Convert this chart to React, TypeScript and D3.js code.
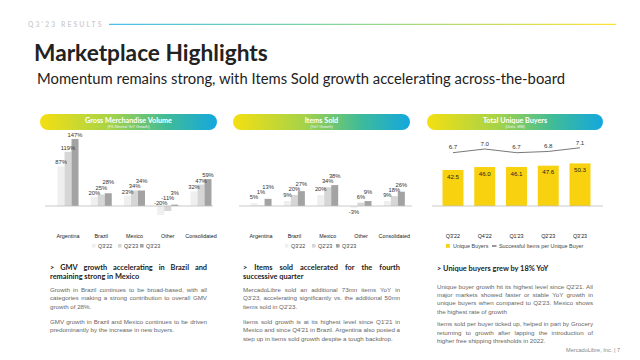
import React from 'react';
import * as d3 from 'd3';

// ---------- DATA ----------
const CATEGORIES = ['Argentina', 'Brazil', 'Mexico', 'Other', 'Consolidated'];
const SERIES = ["Q3'22", "Q2'23", "Q3'23"];
const GMV_Q322 = [87, 20, 23, -20, 32];
const GMV_Q223 = [119, 25, 34, -11, 47];
const GMV_Q323 = [147, 28, 34, 3, 59];
const ITEMS_Q322 = [5, 9, 20, -3, 9];
const ITEMS_Q223 = [1, 20, 34, 6, 18];
const ITEMS_Q323 = [13, 27, 38, 9, 26];
const QUARTERS = ["Q3'22", "Q4'22", "Q1'23", "Q2'23", "Q3'23"];
const UNIQUE_BUYERS = [42.5, 46.0, 46.1, 47.6, 50.3];
const ITEMS_PER_BUYER = [6.7, 7.0, 6.7, 6.8, 7.1];

const TEXT1_HEAD = ['> GMV growth accelerating in Brazil and', 'remaining strong in Mexico'];
const TEXT1_P = [
  ['Growth in Brazil continues to be broad-based, with all', 'categories making a strong contribution to overall GMV', 'growth of 28%.'],
  ['GMV growth in Brazil and Mexico continues to be driven', 'predominantly by the increase in new buyers.'],
];
const TEXT2_HEAD = ['> Items sold accelerated for the fourth', 'successive quarter'];
const TEXT2_P = [
  ['MercadoLibre sold an additional 73mn items YoY in', "Q3'23, accelerating significantly vs. the additional 50mn", "items sold in Q2'23."],
  ["Items sold growth is at its highest level since Q1'21 in", "Mexico and since Q4'21 in Brazil. Argentina also posted a", 'step up in items sold growth despite a tough backdrop.'],
];
const TEXT3_HEAD = ['> Unique buyers grew by 18% YoY'];
const TEXT3_P = [
  ["Unique buyer growth hit its highest level since Q2'21. All", 'major markets showed faster or stable YoY growth in', "unique buyers when compared to Q2'23. Mexico shows", 'the highest rate of growth'],
  ['Items sold per buyer ticked up, helped in part by Grocery', 'returning to growth after lapping the introduction of', 'higher free shipping thresholds in 2022.'],
];

// ---------- STYLE ----------
const HEAD_FONT = "Lato, 'Open Sans', sans-serif";
const BODY_FONT = "'Liberation Sans', Arial, sans-serif";
const SERIES_COLORS = ['#efefef', '#d6d6d6', '#a3a3a3'];
const YELLOW = '#f8d20f';

let _ctx: CanvasRenderingContext2D | null = null;
function measure(t: string, font: string): number {
  if (!_ctx) _ctx = document.createElement('canvas').getContext('2d');
  if (!_ctx) return t.length * 3;
  _ctx.font = font;
  return _ctx.measureText(t).width;
}

function Justified({ x, y, width, lines, lh, size, weight, family, fill, justifyLast = false }: any) {
  const font = `${weight} ${size}px ${family}`;
  return (
    <g>
      {lines.map((line: string, i: number) => {
        const yy = y + i * lh;
        const last = i === lines.length - 1 && !justifyLast;
        if (last) {
          return (
            <text key={i} x={x} y={yy} fontSize={size} fontWeight={weight} fontFamily={family} fill={fill}>
              {line}
            </text>
          );
        }
        const words = line.split(' ');
        const ws = words.map((w) => measure(w, font));
        const total = ws.reduce((a, b) => a + b, 0);
        const gap = (width - total) / Math.max(1, words.length - 1);
        let cx = x;
        return (
          <text key={i} y={yy} fontSize={size} fontWeight={weight} fontFamily={family} fill={fill}>
            {words.map((w, j) => {
              const px = cx;
              cx += ws[j] + gap;
              return (
                <tspan key={j} x={px}>
                  {w}
                </tspan>
              );
            })}
          </text>
        );
      })}
    </g>
  );
}

function TextColumn({ x, width, head, paras, headY, bodyY, paraGap }: any) {
  let y = bodyY;
  const blocks: any[] = [];
  paras.forEach((p: string[], i: number) => {
    blocks.push(
      <Justified key={i} x={x} y={y} width={width} lines={p} lh={8.4} size={6.2} weight={400} family={BODY_FONT} fill="#666" />
    );
    y += p.length * 8.4 + paraGap;
  });
  return (
    <g>
      <Justified x={x} y={headY} width={width} lines={head} lh={9} size={7.4} weight={700} family={HEAD_FONT} fill="#222" />
      {blocks}
    </g>
  );
}

function Pill({ x0, x1, y, title, sub, id }: any) {
  const h = 16;
  const cx = (x0 + x1) / 2;
  return (
    <g>
      <rect x={x0} y={y} width={x1 - x0} height={h} rx={h / 2} fill={`url(#${id})`} />
      <text x={cx} y={y + 8.7} textAnchor="middle" fontSize={7.2} fontWeight={700} fontFamily={HEAD_FONT} fill="#fff">
        {title}
      </text>
      <text x={cx} y={y + 13.6} textAnchor="middle" fontSize={3.8} fontFamily={BODY_FONT} fill="#f4f4f4">
        {sub}
      </text>
    </g>
  );
}

function GroupedBars({ values, xRange, y0, pxPer, lineX, labelGap, negBelow }: any) {
  const x0 = d3.scaleBand().domain(CATEGORIES).range(xRange).padding(0);
  const x1 = d3.scaleBand().domain(SERIES).range([-10.5, 10.5]);
  const y = d3.scaleLinear().domain([0, 100]).range([y0, y0 - 100 * pxPer]);
  const marks: any[] = [];
  const labels: any[] = [];
  const STEP = 5.2;
  CATEGORIES.forEach((c, ci) => {
    const center = (x0(c) as number) + x0.bandwidth() / 2;
    let prev: number | null = null;
    SERIES.forEach((s, si) => {
      const v = values[si][ci];
      const bx = center + (x1(s) as number);
      const top = Math.min(y(v), y(0));
      const hgt = Math.abs(y(v) - y(0));
      marks.push(<rect key={`${c}-${s}`} x={bx} y={top} width={x1.bandwidth()} height={hgt} fill={SERIES_COLORS[si]} />);
      let ly: number;
      if (v < 0 && negBelow) {
        ly = y(v) + 6.5;
      } else {
        ly = v < 0 ? y0 - 1 : y(v) - labelGap;
        if (prev !== null && ly > prev - STEP) ly = prev - STEP;
        prev = ly;
      }
      labels.push(
        <text key={`l-${c}-${s}`} x={bx + x1.bandwidth() / 2} y={ly} textAnchor="middle" fontSize={5.8} fontFamily={BODY_FONT} fill="#333">
          {`${v}%`}
        </text>
      );
    });
  });
  return (
    <g>
      {marks}
      <line x1={lineX[0]} x2={lineX[1]} y1={y0} y2={y0} stroke="#bdbdbd" strokeWidth={0.8} />
      {labels}
      {CATEGORIES.map((c) => (
        <text key={c} x={(x0(c) as number) + x0.bandwidth() / 2} y={238} textAnchor="middle" fontSize={5.4} fontFamily={BODY_FONT} fill="#222">
          {c}
        </text>
      ))}
    </g>
  );
}

function SeriesLegend({ xs }: any) {
  return (
    <g>
      {SERIES.map((s, i) => (
        <g key={s}>
          <rect x={xs[i]} y={244} width={3.6} height={3.6} fill={SERIES_COLORS[i]} />
          <text x={xs[i] + 6} y={247.8} fontSize={5.4} fontFamily={BODY_FONT} fill="#444">
            {s}
          </text>
        </g>
      ))}
    </g>
  );
}

function BuyersChart() {
  const x = d3.scaleBand().domain(QUARTERS).range([437.1, 595.9]).paddingInner(0.34).paddingOuter(0.17);
  const y = d3.scaleLinear().domain([0, 60]).range([206, 206 - 60 * 0.847]);
  const yl = d3.scaleLinear().domain([6, 8]).range([161.3, 136.7]);
  const cx = (q: string) => (x(q) as number) + x.bandwidth() / 2;
  const line = d3
    .line<number>()
    .x((_, i) => cx(QUARTERS[i]))
    .y((d) => yl(d));
  return (
    <g>
      {QUARTERS.map((q, i) => (
        <g key={q}>
          <rect x={x(q)} y={y(UNIQUE_BUYERS[i])} width={x.bandwidth()} height={y(0) - y(UNIQUE_BUYERS[i])} fill={YELLOW} />
          <text x={cx(q)} y={y(UNIQUE_BUYERS[i]) + 8.6} textAnchor="middle" fontSize={6.2} fontFamily={BODY_FONT} fill="#222">
            {UNIQUE_BUYERS[i].toFixed(1)}
          </text>
          <text x={cx(q)} y={yl(ITEMS_PER_BUYER[i]) - 3.2} textAnchor="middle" fontSize={6.2} fontFamily={BODY_FONT} fill="#333">
            {ITEMS_PER_BUYER[i].toFixed(1)}
          </text>
          <text x={cx(q)} y={238} textAnchor="middle" fontSize={5.4} fontFamily={BODY_FONT} fill="#222">
            {q}
          </text>
        </g>
      ))}
      <path d={line(ITEMS_PER_BUYER) || ''} fill="none" stroke="#555" strokeWidth={0.8} />
      <line x1={432} x2={603} y1={206} y2={206} stroke="#bdbdbd" strokeWidth={0.8} />
      <rect x={446} y={244} width={3.8} height={3.8} fill={YELLOW} />
      <text x={453} y={247.8} fontSize={5.4} fontFamily={BODY_FONT} fill="#444">
        Unique Buyers
      </text>
      <line x1={492} x2={496.5} y1={246} y2={246} stroke="#333" strokeWidth={1} />
      <text x={499} y={247.8} fontSize={5.4} fontFamily={BODY_FONT} fill="#444">
        Successful Items per Unique Buyer
      </text>
    </g>
  );
}

export default function App() {
  return (
    <svg width={640} height={360} viewBox="0 0 640 360" style={{ position: 'absolute', left: 0, top: 0, background: '#fff' }}>
      <defs>
        <linearGradient id="hdr" x1="0" x2="1" y1="0" y2="0">
          <stop offset="0" stopColor="#1cb0e6" />
          <stop offset="0.4" stopColor="#5cc88f" />
          <stop offset="1" stopColor="#ffdb00" />
        </linearGradient>
        {['p1', 'p2', 'p3'].map((id) => (
          <linearGradient key={id} id={id} x1="0" x2="1" y1="0" y2="0">
            <stop offset="0" stopColor="#f4df12" />
            <stop offset="0.4" stopColor="#a6d348" />
            <stop offset="0.72" stopColor="#3fbb99" />
            <stop offset="1" stopColor="#14a7de" />
          </linearGradient>
        ))}
      </defs>
      <rect width={640} height={360} fill="#fff" />
      <text x={28} y={26.8} fontSize={6.8} fontFamily={HEAD_FONT} fill="#cfcfcf" letterSpacing={2.1} fontWeight={700}>
        Q3'23 RESULTS
      </text>
      <rect x={109} y={23.8} width={507} height={1} fill="url(#hdr)" />
      <text x={34} y={61} fontSize={22.7} fontWeight={700} fontFamily={HEAD_FONT} fill="#222">
        Marketplace Highlights
      </text>
      <text x={37} y={84} fontSize={14.8} fontFamily={HEAD_FONT} fill="#222">
        Momentum remains strong, with Items Sold growth accelerating across-the-board
      </text>

      <Pill id="p1" x0={40} x1={217} y={114} title="Gross Merchandise Volume" sub="(FX-Neutral YoY Growth)" />
      <Pill id="p2" x0={233} x1={410} y={114} title="Items Sold" sub="(YoY Growth)" />
      <Pill id="p3" x0={427} x1={603} y={114} title="Total Unique Buyers" sub="(Units, MM)" />

      <GroupedBars values={[GMV_Q322, GMV_Q223, GMV_Q323]} xRange={[51.4, 217.6]} y0={206} pxPer={0.456} lineX={[45, 213]} labelGap={2} negBelow={false} />
      <SeriesLegend xs={[92, 118, 140]} />

      <GroupedBars values={[ITEMS_Q322, ITEMS_Q223, ITEMS_Q323]} xRange={[244.4, 411]} y0={206} pxPer={0.55} lineX={[239, 412]} labelGap={4} negBelow={true} />
      <SeriesLegend xs={[285, 312, 336]} />

      <BuyersChart />

      <TextColumn x={50} width={157} head={TEXT1_HEAD} paras={TEXT1_P} headY={270} bodyY={292} paraGap={6.5} />
      <TextColumn x={243} width={157} head={TEXT2_HEAD} paras={TEXT2_P} headY={270} bodyY={292} paraGap={6.5} />
      <TextColumn x={437} width={156} head={TEXT3_HEAD} paras={TEXT3_P} headY={271} bodyY={288.5} paraGap={4} />

      <text x={620} y={352} textAnchor="end" fontSize={5.6} fontFamily={BODY_FONT} fill="#888">
        MercadoLibre, Inc. | 7
      </text>
    </svg>
  );
}
